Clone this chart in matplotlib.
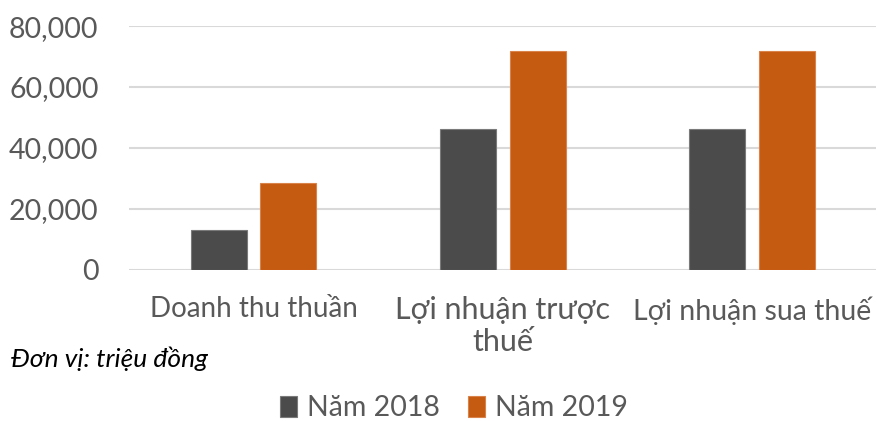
import matplotlib
matplotlib.use('Agg')
import matplotlib.pyplot as plt
import numpy as np
from matplotlib.ticker import FuncFormatter

# Data (triệu đồng)
categories = ['Doanh thu thuần', 'Lợi nhuận trược\nthuế', 'Lợi nhuận sua thuế']
label_sizes = [20, 22, 20.5]
nam_2018 = [13100, 46200, 46100]
nam_2019 = [28500, 71900, 71900]
series_names = ['Năm 2018', 'Năm 2019']
colors = ['#4b4b4b', '#c55a11']
yticks = [0, 20000, 40000, 60000, 80000]

plt.rcParams['font.family'] = ['Lato', 'DejaVu Sans']
text_color = '#595959'

fig = plt.figure(figsize=(8.78, 4.21), dpi=100)
ax = fig.add_axes([0.147, 0.359, 0.851, 0.579])

x = np.arange(len(categories))
w = 0.225
off = 0.14
ax.bar(x - off, nam_2018, w, color=colors[0], edgecolor='#7a7a7a', linewidth=0.8,
       label=series_names[0], zorder=3)
ax.bar(x + off, nam_2019, w, color=colors[1], edgecolor='#d9824a', linewidth=0.8,
       label=series_names[1], zorder=3)

ax.set_xlim(-0.5, len(categories) - 0.5)
ax.set_ylim(0, 80000)
ax.set_yticks(yticks)
ax.yaxis.set_major_formatter(FuncFormatter(lambda v, p: f'{int(v):,}'))
ax.grid(axis='y', color='#d9d9d9', linewidth=1.5, zorder=0)
for s in ax.spines.values():
    s.set_visible(False)
ax.tick_params(axis='y', length=0, pad=22, labelsize=20.5, labelcolor=text_color)
ax.tick_params(axis='x', length=0, pad=19, labelcolor=text_color)

ax.set_xticks(x)
ax.set_xticklabels(categories, linespacing=1.15, va='top')
for lbl, sz in zip(ax.get_xticklabels(), label_sizes):
    lbl.set_fontsize(sz)

fig.text(0.012, 0.148, 'Đơn vị: triệu đồng', fontsize=19, style='italic',
         color='black', va='center', ha='left')

leg = fig.legend(loc='center', bbox_to_anchor=(0.517, 0.03), ncol=2, frameon=False,
                 fontsize=20.5, handlelength=0.6, handleheight=0.8, handletextpad=0.35,
                 columnspacing=1.0, labelcolor=text_color)

fig.savefig('out.png', dpi=100)
